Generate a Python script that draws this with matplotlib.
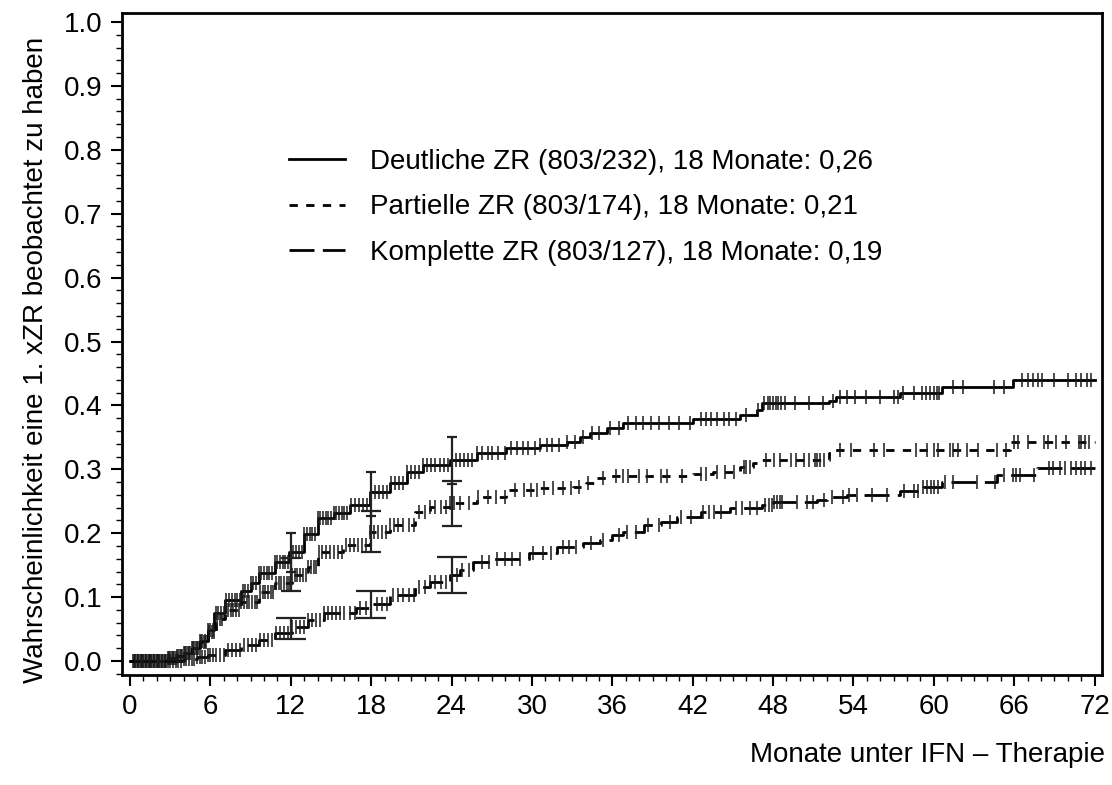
import numpy as np
import matplotlib
matplotlib.use("Agg")
import matplotlib.pyplot as plt
from matplotlib.ticker import MultipleLocator

plt.rcParams['font.family'] = ['Liberation Sans', 'DejaVu Sans']

# ---- data ----
# Deutliche ZR (solid)
t_deut = [0, 2.8, 3.5, 4.0, 4.6, 5.2, 5.8, 6.3, 7.1, 8.3, 9.0, 9.6, 10.8, 11.9, 13.0, 14.0, 15.2,
          16.4, 17.9, 19.4, 20.7, 21.9, 23.9, 25.9, 28.1, 30.6, 32.6, 33.6, 34.3, 35.6, 36.8,
          42.0, 45.5, 46.8, 47.2, 52.2, 52.7, 57.5, 60.6, 65.9]
v_deut = [0.0, 0.004, 0.008, 0.013, 0.02, 0.032, 0.048, 0.075, 0.095, 0.11, 0.122, 0.137, 0.155,
          0.17, 0.198, 0.224, 0.232, 0.244, 0.265, 0.279, 0.296, 0.307, 0.315, 0.325, 0.333,
          0.338, 0.343, 0.35, 0.357, 0.365, 0.372, 0.379, 0.385, 0.393, 0.404, 0.407, 0.413,
          0.42, 0.429, 0.44]
# Partielle ZR (short dash)
t_part = [0, 2.8, 3.5, 4.0, 4.6, 5.2, 5.8, 6.4, 7.1, 8.3, 9.6, 10.8, 12.1, 13.3, 14.0, 15.9,
          17.9, 19.4, 21.3, 22.4, 23.9, 25.9, 28.1, 30.6, 33.1, 34.0, 34.8, 35.8, 42.0, 43.5,
          45.5, 46.5, 47.0, 52.2, 52.6, 65.7]
v_part = [0.0, 0.004, 0.008, 0.013, 0.02, 0.03, 0.045, 0.065, 0.08, 0.092, 0.108, 0.122, 0.135,
          0.147, 0.17, 0.181, 0.202, 0.213, 0.233, 0.241, 0.247, 0.257, 0.268, 0.27, 0.273,
          0.278, 0.286, 0.289, 0.292, 0.296, 0.303, 0.31, 0.315, 0.325, 0.33, 0.343]
# Komplette ZR (long dash)
t_komp = [0, 4.0, 5.0, 5.8, 7.1, 8.3, 9.6, 10.8, 12.1, 13.3, 14.5, 16.9, 17.9, 19.4, 21.3, 22.4,
          23.9, 24.6, 25.6, 27.2, 29.8, 31.9, 33.8, 35.1, 36.0, 36.8, 38.4, 39.6, 40.8, 42.6,
          44.8, 47.2, 48.0, 51.3, 52.0, 53.5, 57.5, 59.2, 60.6, 64.7, 67.7]
v_komp = [0.0, 0.003, 0.006, 0.009, 0.017, 0.025, 0.033, 0.044, 0.053, 0.064, 0.075, 0.083,
          0.09, 0.103, 0.116, 0.124, 0.134, 0.142, 0.155, 0.16, 0.169, 0.178, 0.185, 0.189,
          0.197, 0.202, 0.213, 0.218, 0.226, 0.233, 0.24, 0.244, 0.249, 0.252, 0.256, 0.26,
          0.266, 0.273, 0.28, 0.291, 0.302]

# censoring times
c_deut = [0.2, 0.4, 0.6, 0.8, 1.0, 1.2, 1.4, 1.6, 1.8, 2.0, 2.2, 2.4, 2.6, 2.8, 3.0, 3.2, 3.4,
          3.6, 3.8, 4.0, 4.2, 4.4, 4.6, 4.8, 5.0, 5.2, 5.4, 5.6, 5.8, 6.0, 6.2, 6.4, 6.6, 6.8,
          7.0, 7.2, 7.4, 7.6, 7.8, 8.0, 8.2, 8.4, 8.6, 8.8, 9.0, 9.2, 9.4, 9.6, 9.8, 10.0,
          10.2, 10.4, 10.6, 10.8, 11.0, 11.2, 11.4, 11.6, 11.8, 12.0, 12.2, 12.4, 12.6, 12.8,
          13.0, 13.2, 13.4, 13.6, 13.8, 14.0, 14.2, 14.4, 14.6, 14.8, 15.0, 15.2, 15.4, 15.6,
          15.8, 16.0, 16.2, 16.5, 16.8, 17.1, 17.4, 17.7, 18.0, 18.3, 18.6, 18.9, 19.2, 19.5,
          19.8, 20.1, 20.4, 20.7, 21.0, 21.3, 21.6, 21.9, 22.2, 22.5, 22.8, 23.1, 23.4, 23.7,
          24.0, 24.3, 24.6, 24.9, 25.2, 25.5, 25.9, 26.3, 26.7, 27.0, 27.5, 28.0, 28.4, 28.9,
          29.3, 29.7, 30.2, 30.6, 31.1, 31.5, 32.0, 32.6, 33.2, 33.8, 34.5, 35.0, 35.8, 36.5,
          37.2, 37.8, 38.3, 38.9, 39.5, 40.2, 41.0, 41.8, 42.6, 43.0, 43.4, 43.8, 44.3, 44.7,
          45.2, 46.0, 46.9, 47.3, 47.6, 47.8, 48.0, 48.2, 48.4, 48.6, 48.9, 49.6, 50.7, 51.7,
          52.5, 53.0, 53.5, 54.1, 54.9, 56.0, 57.0, 57.3, 57.7, 58.5, 59.1, 59.4, 59.7, 60.0,
          60.2, 60.4, 61.4, 62.2, 64.5, 65.2, 66.6, 67.0, 67.4, 67.8, 68.1, 69.0, 70.0, 70.6,
          71.0, 71.4, 71.7]
c_part = [0.3, 0.5, 0.7, 0.9, 1.1, 1.3, 1.5, 1.7, 1.9, 2.1, 2.3, 2.5, 2.7, 2.9, 3.1, 3.3, 3.5,
          3.7, 3.9, 4.1, 4.3, 4.5, 4.7, 4.9, 5.1, 5.3, 5.5, 5.7, 5.9, 6.1, 6.3, 6.5, 6.7, 6.9,
          7.1, 7.3, 7.5, 7.7, 7.9, 8.1, 8.3, 8.5, 8.7, 8.9, 9.1, 9.3, 9.5, 9.7, 9.9, 10.1,
          10.3, 10.5, 10.7, 10.9, 11.1, 11.3, 11.5, 11.7, 11.9, 12.1, 12.3, 12.5, 12.7, 12.9,
          13.1, 13.3, 13.5, 13.7, 13.9, 14.1, 14.3, 14.6, 14.9, 15.2, 15.5, 15.8, 16.1, 16.4,
          16.7, 17.0, 17.3, 17.6, 17.9, 18.2, 18.5, 18.8, 19.1, 19.4, 19.7, 20.0, 20.4, 20.8,
          21.2, 21.6, 22.0, 22.4, 22.8, 23.2, 23.6, 23.9, 24.2, 24.6, 25.3, 26.0, 26.7, 27.3,
          28.0, 28.7, 29.4, 29.9, 30.4, 30.9, 31.6, 32.3, 32.9, 33.5, 34.2, 35.3, 36.3, 36.8,
          37.2, 38.0, 38.6, 39.6, 40.1, 41.2, 42.6, 43.0, 43.8, 44.4, 45.1, 45.8, 46.0, 46.3,
          47.5, 48.1, 48.5, 49.3, 49.7, 50.3, 50.7, 51.1, 51.3, 51.5, 51.8, 53.0, 53.8, 55.5,
          56.3, 58.7, 59.5, 60.0, 60.3, 61.2, 61.4, 61.8, 62.5, 63.3, 64.7, 65.4, 66.0, 66.3,
          67.0, 68.2, 68.5, 69.1, 69.9, 70.8, 71.0, 71.3, 71.6]
c_komp = [0.4, 0.6, 0.8, 1.0, 1.2, 1.4, 1.6, 1.8, 2.0, 2.2, 2.4, 2.6, 2.8, 3.0, 3.2, 3.4, 3.6,
          3.8, 4.0, 4.2, 4.4, 4.6, 4.8, 5.0, 5.2, 5.4, 5.6, 5.8, 6.0, 6.2, 6.4, 6.7, 7.0, 7.3,
          7.6, 7.9, 8.2, 8.5, 8.8, 9.1, 9.4, 9.7, 10.0, 10.3, 10.6, 10.9, 11.2, 11.5, 11.8,
          12.1, 12.4, 12.7, 13.0, 13.3, 13.6, 13.9, 14.2, 14.5, 14.8, 15.1, 15.4, 15.7, 16.0,
          16.4, 16.8, 17.2, 17.6, 18.0, 18.4, 18.8, 19.2, 19.6, 20.0, 20.4, 20.8, 21.2, 21.6,
          22.0, 22.4, 22.8, 23.2, 23.6, 24.0, 24.4, 24.8, 25.3, 26.3, 26.8, 27.4, 28.0, 28.5,
          29.1, 30.1, 30.8, 31.4, 32.3, 32.8, 33.3, 34.4, 35.3, 36.5, 37.1, 37.8, 38.7, 39.5,
          40.3, 41.1, 41.9, 42.8, 43.2, 43.6, 44.1, 45.2, 45.7, 46.3, 46.8, 47.4, 47.7, 47.9,
          48.1, 48.3, 48.5, 48.7, 49.8, 50.5, 51.0, 51.8, 52.4, 53.2, 53.7, 54.3, 55.4, 56.5,
          57.8, 58.5, 58.8, 59.2, 59.5, 59.8, 60.0, 60.3, 60.8, 61.4, 63.2, 64.6, 65.2, 65.9,
          66.1, 66.4, 67.5, 68.6, 68.9, 69.4, 69.8, 70.2, 70.6, 71.0, 71.3, 71.7]

# confidence intervals at 12, 18, 24 months (lower, upper)
ci_time = [12, 18, 24]
ci_deut_lo = [0.14, 0.227, 0.277]
ci_deut_hi = [0.20, 0.296, 0.35]
ci_part_lo = [0.11, 0.17, 0.211]
ci_part_hi = [0.161, 0.235, 0.282]
ci_komp_lo = [0.034, 0.067, 0.106]
ci_komp_hi = [0.067, 0.11, 0.163]

labels = ["Deutliche ZR (803/232), 18 Monate: 0,26",
          "Partielle ZR (803/174), 18 Monate: 0,21",
          "Komplette ZR (803/127), 18 Monate: 0,19"]

x_ticks = [0, 6, 12, 18, 24, 30, 36, 42, 48, 54, 60, 66, 72]
y_ticks = [0.0, 0.1, 0.2, 0.3, 0.4, 0.5, 0.6, 0.7, 0.8, 0.9, 1.0]

# ---- plot ----
fig = plt.figure(figsize=(11.12, 7.85), dpi=100)
ax = fig.add_axes([0.1097, 0.1401, 0.991 - 0.1097, 0.9834 - 0.1401])

series = [
    (t_deut, v_deut, c_deut, ci_deut_lo, ci_deut_hi, '-', 3.5),
    (t_part, v_part, c_part, ci_part_lo, ci_part_hi, (0, (3, 3)), 7.5),
    (t_komp, v_komp, c_komp, ci_komp_lo, ci_komp_hi, (0, (9, 3)), 11),
]
handles = []
for t, v, c, lo, hi, ls, cap in series:
    tt = list(t) + [72]
    vv = list(v) + [v[-1]]
    h, = ax.step(tt, vv, where='post', color='black', lw=2.0, linestyle=ls)
    handles.append(h)
    cy = np.array(v)[np.searchsorted(t, c, side='right') - 1]
    ax.plot(c, cy, linestyle='none', marker='|', markersize=10.5, mew=1.1, color='#1a1a1a')
    ci_mid = np.array(v)[np.searchsorted(t, ci_time, side='right') - 1]
    ax.errorbar(ci_time, ci_mid, yerr=[ci_mid - np.array(lo), np.array(hi) - ci_mid],
                fmt='none', ecolor='#222222', elinewidth=1.6, capsize=cap, capthick=1.6)

ax.set_xlim(-0.6, 72.55)
ax.set_ylim(-0.0219, 1.014)
ax.set_xticks(x_ticks)
ax.set_yticks(y_ticks)
ax.set_yticklabels([f"{y:.1f}" for y in y_ticks])
ax.xaxis.set_minor_locator(MultipleLocator(1))
ax.yaxis.set_minor_locator(MultipleLocator(0.02))
ax.tick_params(which='major', direction='out', length=8, width=1.5, labelsize=20, pad=6)
ax.tick_params(which='minor', direction='out', length=4, width=1.0)
for sp in ax.spines.values():
    sp.set_linewidth(2)

ax.set_ylabel("Wahrscheinlichkeit eine 1. xZR beobachtet zu haben", fontsize=20)
ax.yaxis.set_label_coords(-0.074, 0.476)
fig.text(0.9937, 0.022, "Monate unter IFN – Therapie", ha='right', va='bottom', fontsize=20)

leg = ax.legend(handles, labels, loc='upper left', bbox_to_anchor=(0.145, 0.8325),
                frameon=False, fontsize=20, handlelength=2.0, handletextpad=0.9,
                labelspacing=0.7)

fig.savefig("out.png", dpi=100)
